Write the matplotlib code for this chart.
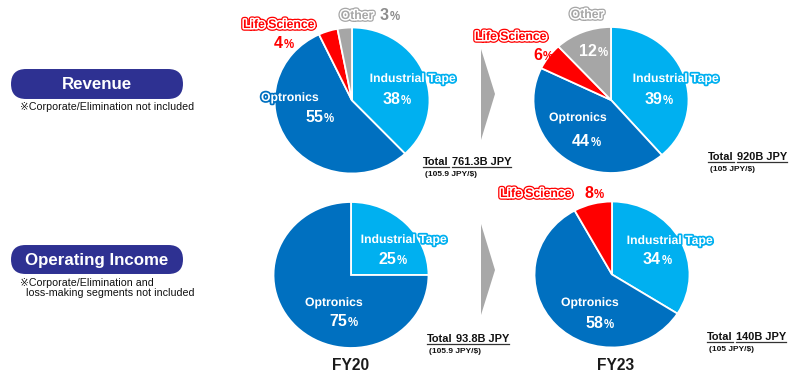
import matplotlib
matplotlib.use("Agg")
import matplotlib.pyplot as plt
import matplotlib.patheffects as pe
from matplotlib.patches import FancyBboxPatch, Polygon

plt.rcParams['font.family'] = ['Liberation Sans', 'DejaVu Sans']

# ---------------- data ----------------
segments = ["Industrial Tape", "Optronics", "Life Science", "Other"]
rev_fy20 = [38, 55, 4, 3]
rev_fy23 = [39, 44, 6, 12]
oi_fy20 = [25, 75]
oi_fy23 = [34, 58, 8]
years = ["FY20", "FY23"]
rows = ["Revenue", "Operating Income"]
notes = ["※Corporate/Elimination not included",
         "※Corporate/Elimination and\n  loss-making segments not included"]
totals = [("Total", "761.3B JPY", "(105.9 JPY/$)"),
          ("Total", "920B JPY", "(105 JPY/$)"),
          ("Total", "93.8B JPY", "(105.9 JPY/$)"),
          ("Total", "140B JPY", "(105 JPY/$)")]

C_IT = "#00B0F0"
C_OP = "#0070C0"
C_LS = "#FF0000"
C_OT = "#A6A6A6"
colors = [C_IT, C_OP, C_LS, C_OT]
NAVY = "#2E3192"

W, H = 800, 382
fig = plt.figure(figsize=(W / 100, H / 100), dpi=100)
fig.patch.set_facecolor("white")


def pie_axes(cx, cy, rx, ry, vals):
    ax = fig.add_axes([(cx - rx) / W, (H - cy - ry) / H, 2 * rx / W, 2 * ry / H])
    ax.pie(vals, colors=colors[:len(vals)], startangle=90, counterclock=False,
           radius=1.0, wedgeprops=dict(edgecolor="white", linewidth=1.3))
    ax.set_xlim(-1.0, 1.0)
    ax.set_ylim(-1.0, 1.0)
    ax.set_aspect("auto")
    ax.axis("off")
    return ax


RX, RY = 77.5, 73
pie_axes(352, 100.5, RX, RY, rev_fy20)
pie_axes(611, 100, RX, RY, rev_fy23)
pie_axes(351, 275, RX, RY, oi_fy20)
pie_axes(612, 274.5, RX, RY, oi_fy23)

# overlay axes in pixel coordinates
ax = fig.add_axes([0, 0, 1, 1], zorder=10)
ax.set_xlim(0, W)
ax.set_ylim(H, 0)
ax.axis("off")
ax.patch.set_alpha(0)

LBL = 8.8
NUM = 11.5
PCT = 8.3


def outline(fg, lw=2.5):
    return [pe.Stroke(linewidth=lw, foreground=fg), pe.Normal()]


def ring(fg):
    return [pe.Stroke(linewidth=4.0, foreground=fg),
            pe.Stroke(linewidth=2.2, foreground="white"), pe.Normal()]


def label(x, y, s, kind):
    if kind == "IT":
        ax.text(x, y, s, color="white", fontsize=LBL, fontweight="bold",
                ha="center", va="center", path_effects=outline(C_IT))
    elif kind == "OP":
        ax.text(x, y, s, color="white", fontsize=LBL, fontweight="bold",
                ha="center", va="center", path_effects=outline(C_OP))
    elif kind == "LS":
        ax.text(x, y, s, color=C_LS, fontsize=LBL, fontweight="bold",
                ha="center", va="center", path_effects=ring(C_LS))
    elif kind == "OT":
        ax.text(x, y, s, color=C_OT, fontsize=LBL, fontweight="bold",
                ha="center", va="center", path_effects=ring(C_OT))


def pct(x, y, v, color):
    ax.text(x, y, f"{v}", color=color, fontsize=NUM, fontweight="bold",
            ha="right", va="center")
    ax.text(x + 0.5, y + 1.5, "%", color=color, fontsize=PCT, fontweight="bold",
            ha="left", va="center")


# FY20 revenue
label(279, 25, segments[2], "LS"); pct(283, 44, rev_fy20[2], C_LS)
label(357, 16, segments[3], "OT"); pct(389, 16, rev_fy20[3], "#8C8C8C")
label(413, 79, segments[0], "IT"); pct(400, 100, rev_fy20[0], "white")
label(290, 98, segments[1], "OP"); pct(323, 118, rev_fy20[1], "white")

# FY23 revenue
label(587, 15, segments[3], "OT"); pct(597, 51, rev_fy23[3], "white")
label(511, 37, segments[2], "LS"); pct(542, 56, rev_fy23[2], C_LS)
label(676, 79, segments[0], "IT"); pct(662, 99, rev_fy23[0], "white")
label(578, 118, segments[1], "OP"); pct(590, 142, rev_fy23[1], "white")

# FY20 operating income
label(404, 240, segments[0], "IT"); pct(396, 259, oi_fy20[0], "white")
label(334, 303, segments[1], "OP"); pct(347, 321, oi_fy20[1], "white")

# FY23 operating income
label(536, 194, segments[2], "LS"); pct(593, 194, oi_fy23[2], C_LS)
label(670, 241, segments[0], "IT"); pct(661, 259, oi_fy23[0], "white")
label(590, 303, segments[1], "OP"); pct(603, 323, oi_fy23[1], "white")

# year labels
ax.text(351, 365, years[0], fontsize=11.2, fontweight="bold", color="#1a1a1a",
        ha="center", va="center")
ax.text(616, 365, years[1], fontsize=11.2, fontweight="bold", color="#1a1a1a",
        ha="center", va="center")

# row badges
for (y0, y1), title, note in zip([(69, 99), (245, 274)], rows, notes):
    h = y1 - y0
    box = FancyBboxPatch((11 + h / 2, y0 + h / 2), 172 - h, 0.001,
                         boxstyle=f"round,pad={h / 2 * 0.999},rounding_size={h / 2}",
                         facecolor=NAVY, edgecolor="none")
    ax.add_patch(box)
    ax.text(97, (y0 + y1) / 2 + 0.5, title, color="white", fontsize=12.2,
            fontweight="bold", ha="center", va="center")
    ax.text(20, y1 + 3.5, note, color="#111111", fontsize=7.7, ha="left", va="top",
            linespacing=1.05)

# arrows
for (ytop, ytip, ybot) in [(49, 94, 140), (224, 270, 315)]:
    ax.add_patch(Polygon([(481, ytop), (495, ytip), (481, ybot)], closed=True,
                         facecolor="#A8A8A8", edgecolor="none"))

# totals
fig.canvas.draw()
renderer = fig.canvas.get_renderer()
inv = ax.transData.inverted()


def text_width(t):
    bb = t.get_window_extent(renderer)
    (x0, _), (x1, _) = inv.transform([(bb.x0, bb.y0), (bb.x1, bb.y1)])
    return x0, x1


total_pos = [(423, 162, True), (708, 157, True), (427, 339, False), (707, 337, True)]
for (lab, val, rate), (x, y, split) in zip(totals, total_pos):
    t1 = ax.text(x, y, lab, fontsize=7.9, fontweight="bold", color="#111111",
                 ha="left", va="center")
    fig.canvas.draw()
    a0, a1 = text_width(t1)
    t2 = ax.text(a1 + 3.2, y, val, fontsize=7.9, fontweight="bold", color="#111111",
                 ha="left", va="center")
    fig.canvas.draw()
    b0, b1 = text_width(t2)
    uy = y + 5.0
    if split:
        ax.plot([a0, a1], [uy, uy], color="#333333", lw=0.9)
        ax.plot([b0, b1], [uy, uy], color="#333333", lw=0.9)
    else:
        ax.plot([a0, b1], [uy, uy], color="#333333", lw=0.9)
    ax.text(x + 2, y + 12.5, rate, fontsize=6.0, fontweight="bold", color="#111111",
            ha="left", va="center")

fig.savefig("out.png", dpi=100, facecolor="white")
